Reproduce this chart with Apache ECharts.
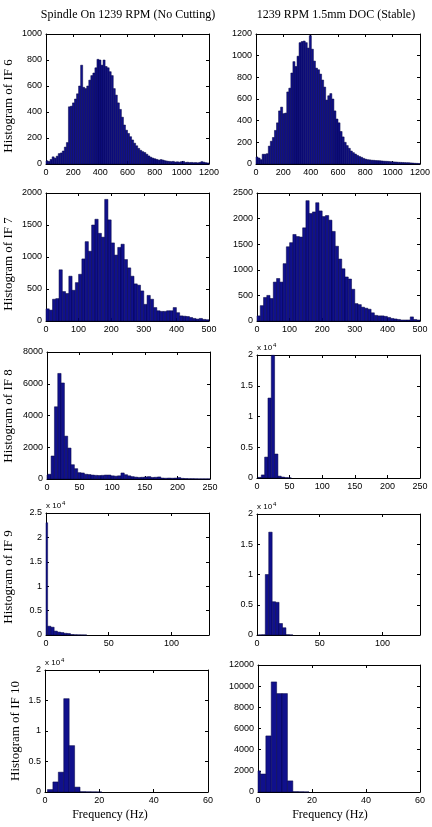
<!DOCTYPE html>
<html>
<head>
<meta charset="utf-8">
<script src="https://cdn.jsdelivr.net/npm/echarts@6/dist/echarts.min.js"></script>
<style>
  html, body { margin: 0; padding: 0; background: #fff; }
  #chart { width: 432px; height: 827px; }
</style>
</head>
<body>
<div id="chart"></div>
<script>
// --- text ---
const columnTitles = ['Spindle On 1239 RPM (No Cutting)', '1239 RPM 1.5mm DOC (Stable)'];
const rowLabels = ['Histogram of IF 6', 'Histogram of IF 7', 'Histogram of IF 8', 'Histogram of IF 9', 'Histogram of IF 10'];
const xAxisTitle = 'Frequency (Hz)';

// --- histogram counts, bins of fixed width from binStart ---
const if6Idle = [25, 20, 35, 55, 45, 60, 80, 85, 100, 130, 165, 440, 445, 470, 500, 540, 600, 760, 590, 580,
  600, 645, 680, 700, 740, 805, 800, 760, 800, 750, 740, 710, 680, 580, 530, 470, 420, 360, 300, 260,
  235, 210, 185, 160, 140, 120, 105, 95, 88, 75, 62, 52, 45, 40, 35, 30, 34, 30, 25, 22,
  20, 18, 20, 15, 17, 14, 18, 20, 12, 14, 11, 12, 10, 11, 9, 12, 18, 14, 10, 8];
const if6Stable = [65, 55, 40, 90, 90, 95, 165, 210, 245, 310, 380, 490, 525, 465, 470, 665, 700, 840, 945, 900,
  995, 1120, 1130, 1135, 1120, 1070, 1185, 1060, 950, 885, 870, 830, 775, 710, 590, 630, 650, 600, 490, 415,
  380, 300, 250, 200, 170, 145, 120, 105, 92, 80, 70, 62, 52, 45, 40, 38, 35, 34, 32, 31,
  30, 28, 26, 25, 24, 22, 20, 19, 18, 16, 15, 14, 13, 12, 12, 10, 9, 7, 6, 5];
const if7Idle = [190, 170, 340, 350, 800, 460, 430, 700, 480, 600, 730, 970, 1240, 1090, 1500, 1590, 1370, 1310, 1900, 1580,
  1220, 1030, 1150, 1200, 960, 830, 700, 580, 560, 470, 260, 400, 340, 210, 160, 150, 150, 160, 160, 210,
  130, 80, 75, 70, 55, 40, 30, 40, 25, 20];
const if7Stable = [100, 300, 460, 500, 440, 760, 830, 760, 1120, 1450, 1530, 1690, 1650, 1640, 1820, 2350, 2100, 2130, 2310, 2150,
  2040, 2060, 1970, 1750, 1460, 1210, 1020, 860, 820, 620, 340, 320, 270, 250, 230, 160, 110, 100, 100, 90,
  70, 50, 40, 30, 20, 20, 20, 80, 30, 20];
const if8Idle = [250, 300, 1450, 4550, 6650, 6050, 2700, 1950, 900, 650, 400, 380, 300, 280, 250, 230, 220, 230, 250, 250,
  200, 180, 200, 380, 270, 200, 150, 120, 100, 110, 130, 150, 100, 110, 130, 60, 50, 60, 50, 60,
  90, 40, 30, 20, 20, 15, 10, 10, 10, 10];
const if8Stable = [100, 500, 3400, 13000, 19950, 3900, 300, 150, 60, 30];
const if9Idle = [23000, 1800, 1600, 800, 600, 500, 350, 300, 100, 50, 30, 20, 10];
const if9Stable = [20, 40, 10000, 17000, 5500, 5400, 1900, 1200, 50, 20];
const if10Idle = [0, 400, 1650, 3250, 15300, 7600, 800, 50, 30, 20, 10];
const if10Stable = [2000, 1700, 5300, 10400, 9300, 9300, 1050, 30, 20, 10];

// bin start / width, axis ranges and tick steps per panel (row-major)
const panels = [
  { counts: if6Idle,    binStart: 0,    binWidth: 15,  xMax: 1200, xStep: 200, yMax: 1000,  yStep: 200 },
  { counts: if6Stable,  binStart: 0,    binWidth: 15,  xMax: 1200, xStep: 200, yMax: 1200,  yStep: 200 },
  { counts: if7Idle,    binStart: 0,    binWidth: 10,  xMax: 500,  xStep: 100, yMax: 2000,  yStep: 500 },
  { counts: if7Stable,  binStart: 0,    binWidth: 10,  xMax: 500,  xStep: 100, yMax: 2500,  yStep: 500 },
  { counts: if8Idle,    binStart: -3.9, binWidth: 5.1, xMax: 250,  xStep: 50,  yMax: 8000,  yStep: 2000 },
  { counts: if8Stable,  binStart: 1.5,  binWidth: 5.1, xMax: 250,  xStep: 50,  yMax: 20000, yStep: 5000, scale: 4 },
  { counts: if9Idle,    binStart: -1.3, binWidth: 2.6, xMax: 130,  xStep: 50,  yMax: 25000, yStep: 5000, scale: 4 },
  { counts: if9Stable,  binStart: 1.1,  binWidth: 2.75, xMax: 130, xStep: 50,  yMax: 20000, yStep: 5000, scale: 4 },
  { counts: if10Idle,   binStart: -1.1, binWidth: 2,   xMax: 60,   xStep: 20,  yMax: 20000, yStep: 5000, scale: 4 },
  { counts: if10Stable, binStart: -1.1, binWidth: 2,   xMax: 60,   xStep: 20,  yMax: 12000, yStep: 2000 }
];

// plot boxes in pixels: [left, top, right, bottom]
const boxes = [
  [46, 34, 209, 164], [256, 34, 420, 164],
  [46, 193, 209, 321], [257, 193, 420, 321],
  [47, 352, 210, 479], [257, 355, 420, 478],
  [46, 513, 209, 635], [257, 514, 420, 635],
  [45, 670, 208, 792], [258, 665, 420, 792]
];
const rowLabelPos = [[9, 106], [9, 264], [9, 416], [9, 577], [16, 731]];

const chart = echarts.init(document.getElementById('chart'), null, { renderer: 'canvas' });

const serif = 'Liberation Serif, Times New Roman, serif';
const sans = 'Liberation Sans, Arial, sans-serif';
const barFill = '#10108c';
const barEdge = '#000040';

const grids = [], xAxes = [], yAxes = [], series = [], graphics = [];

function renderBin(params, api) {
  const n = api.value(2);
  if (!n) return null;
  const a = api.coord([api.value(0), n]);
  const b = api.coord([api.value(1), 0]);
  const cs = params.coordSys;
  const shape = echarts.graphic.clipRectByRect(
    { x: a[0], y: a[1], width: b[0] - a[0], height: b[1] - a[1] },
    { x: cs.x, y: cs.y, width: cs.width, height: cs.height }
  );
  if (!shape) return null;
  return { type: 'rect', shape: shape, style: { fill: barFill, stroke: barEdge, lineWidth: 0.5 } };
}

const line = { show: true, onZero: false, lineStyle: { color: '#000', width: 1 } };
const tick = { show: true, inside: true, length: 3, lineStyle: { color: '#000', width: 1 } };

panels.forEach((p, i) => {
  const [l, t, r, b] = boxes[i];
  grids.push({ left: l, top: t, width: r - l, height: b - t, containLabel: false, outerBoundsMode: 'none' });

  const xBase = { type: 'value', gridIndex: i, min: 0, max: p.xMax, interval: p.xStep, splitLine: { show: false }, axisLine: line, axisTick: tick };
  const yBase = { type: 'value', gridIndex: i, min: 0, max: p.yMax, interval: p.yStep, splitLine: { show: false }, axisLine: line, axisTick: tick };
  const factor = p.scale ? Math.pow(10, p.scale) : 1;

  xAxes.push(Object.assign({}, xBase, {
    position: 'bottom',
    axisLabel: { show: true, showMinLabel: true, showMaxLabel: true, margin: 4, color: '#000', fontFamily: sans, fontSize: 9,
      formatter: v => (v % p.xStep === 0 ? String(v) : '') }
  }));
  xAxes.push(Object.assign({}, xBase, { position: 'top', axisLabel: { show: false } }));
  yAxes.push(Object.assign({}, yBase, {
    position: 'left',
    axisLabel: { show: true, showMinLabel: true, showMaxLabel: true, margin: 4, color: '#000', fontFamily: sans, fontSize: 9,
      formatter: v => String(+(v / factor).toFixed(2)) }
  }));
  yAxes.push(Object.assign({}, yBase, { position: 'right', axisLabel: { show: false } }));

  series.push({
    type: 'custom',
    xAxisIndex: 2 * i,
    yAxisIndex: 2 * i,
    renderItem: renderBin,
    encode: { x: [0, 1], y: 2 },
    data: p.counts.map((n, k) => [p.binStart + k * p.binWidth, p.binStart + (k + 1) * p.binWidth, n]),
    silent: true
  });

  if (p.scale) {
    graphics.push({ type: 'text', x: l, y: t - 7, style: { text: 'x 10', font: '8px ' + sans, fill: '#000', textAlign: 'left', textVerticalAlign: 'middle' } });
    graphics.push({ type: 'text', x: l + 16, y: t - 10, style: { text: String(p.scale), font: '6px ' + sans, fill: '#000', textAlign: 'left', textVerticalAlign: 'middle' } });
  }
});

// column titles
graphics.push({ type: 'text', x: 128, y: 15, style: { text: columnTitles[0], font: '12px ' + serif, fill: '#000', textAlign: 'center', textVerticalAlign: 'middle' } });
graphics.push({ type: 'text', x: 336, y: 15, style: { text: columnTitles[1], font: '12px ' + serif, fill: '#000', textAlign: 'center', textVerticalAlign: 'middle' } });

// row labels (rotated)
rowLabels.forEach((txt, k) => {
  graphics.push({ type: 'text', x: rowLabelPos[k][0], y: rowLabelPos[k][1], rotation: Math.PI / 2,
    style: { text: txt, font: '13px ' + serif, fill: '#000', textAlign: 'center', textVerticalAlign: 'middle' } });
});

// x axis titles under the bottom row
graphics.push({ type: 'text', x: 110, y: 815, style: { text: xAxisTitle, font: '12px ' + serif, fill: '#000', textAlign: 'center', textVerticalAlign: 'middle' } });
graphics.push({ type: 'text', x: 330, y: 815, style: { text: xAxisTitle, font: '12px ' + serif, fill: '#000', textAlign: 'center', textVerticalAlign: 'middle' } });

chart.setOption({
  animation: false,
  backgroundColor: '#fff',
  grid: grids,
  xAxis: xAxes,
  yAxis: yAxes,
  series: series,
  graphic: graphics
});
</script>
</body>
</html>
